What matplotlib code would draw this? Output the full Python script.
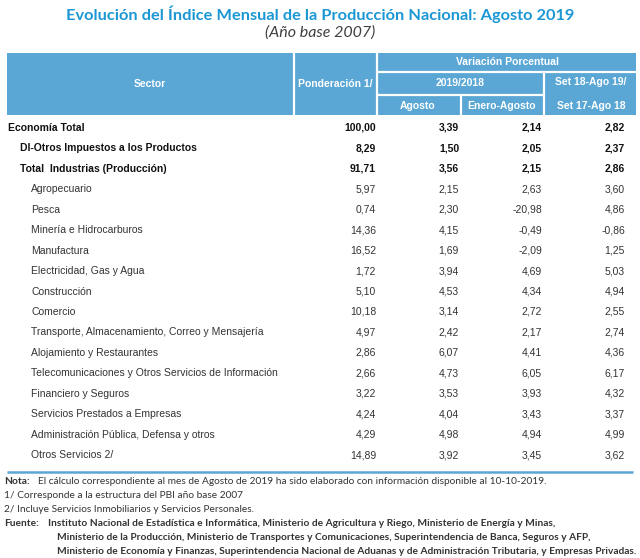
import matplotlib.pyplot as plt
from matplotlib.patches import Rectangle

# datos del cuadro
sectores = [
    'Economía Total',
    'DI-Otros Impuestos a los Productos',
    'Total  Industrias (Producción)',
    'Agropecuario',
    'Pesca',
    'Minería e Hidrocarburos',
    'Manufactura',
    'Electricidad, Gas y Agua',
    'Construcción',
    'Comercio',
    'Transporte, Almacenamiento, Correo y Mensajería',
    'Alojamiento y Restaurantes',
    'Telecomunicaciones y Otros Servicios de Información',
    'Financiero y Seguros',
    'Servicios Prestados a Empresas',
    'Administración Pública, Defensa y otros',
    'Otros Servicios 2/',
]
nivel = [0, 1, 1, 2, 2, 2, 2, 2, 2, 2, 2, 2, 2, 2, 2, 2, 2]
ponderacion = [100.00, 8.29, 91.71, 5.97, 0.74, 14.36, 16.52, 1.72, 5.10,
               10.18, 4.97, 2.86, 2.66, 3.22, 4.24, 4.29, 14.89]
agosto = [3.39, 1.50, 3.56, 2.15, 2.30, 4.15, 1.69, 3.94, 4.53,
          3.14, 2.42, 6.07, 4.73, 3.53, 4.04, 4.98, 3.92]
enero_agosto = [2.14, 2.05, 2.15, 2.63, -20.98, -0.49, -2.09, 4.69, 4.34,
                2.72, 2.17, 4.41, 6.05, 3.93, 3.43, 4.94, 3.45]
anual = [2.82, 2.37, 2.86, 3.60, 4.86, -0.86, 1.25, 5.03, 4.94,
         2.55, 2.74, 4.36, 6.17, 4.32, 3.37, 4.99, 3.62]

titulo = 'Evolución del Índice Mensual de la Producción Nacional: Agosto 2019'
subtitulo = '(Año base 2007)'
nota = ('El cálculo correspondiente al mes de Agosto de 2019 ha sido elaborado '
        'con información disponible al 10-10-2019.')
llamadas = ['1/ Corresponde a la estructura del PBI año base 2007',
            '2/ Incluye Servicios Inmobiliarios y Servicios Personales.']
fuente = ['Instituto Nacional de Estadística e Informática, Ministerio de Agricultura y Riego, Ministerio de Energía y Minas,',
          'Ministerio de la Producción, Ministerio de Transportes y Comunicaciones, Superintendencia de Banca, Seguros y AFP,',
          'Ministerio de Economía y Finanzas, Superintendencia Nacional de Aduanas y de Administración Tributaria, y Empresas Privadas.']

AZUL = '#5AA7D6'
tabla_font = 'Liberation Sans'
nota_font = 'Lato'


def fmt(v):
    return f'{v:.2f}'.replace('.', ',')


fig = plt.figure(figsize=(6.4, 5.58), dpi=100)
ax = fig.add_axes([0, 0, 1, 1])
ax.set_xlim(0, 640)
ax.set_ylim(558, 0)
ax.axis('off')

ax.text(320, 14, titulo, ha='center', va='center', fontsize=11.8,
        fontweight='bold', color='#1B97D4', family=nota_font)
ax.text(320, 33, subtitulo, ha='center', va='center', fontsize=11.5,
        style='italic', color='#404040', family=nota_font)

# encabezado
ax.add_patch(Rectangle((7, 53), 629, 62, facecolor=AZUL, edgecolor='none'))
for x0, y0, x1, y1 in [(293.5, 53, 293.5, 115), (377, 53, 377, 115),
                       (377, 72, 636, 72), (377, 94.5, 544, 94.5),
                       (544, 72, 544, 115), (460.5, 94.5, 460.5, 115)]:
    ax.plot([x0, x1], [y0, y1], color='white', lw=1.6, solid_capstyle='butt')

hdr = dict(ha='center', va='center', color='white', fontweight='bold',
           fontsize=7.5, family=tabla_font)
ax.text(150, 84, 'Sector', **hdr)
ax.text(335, 84, 'Ponderación 1/', **hdr)
ax.text(507, 62, 'Variación Porcentual', **hdr)
ax.text(460, 83, '2019/2018', **hdr)
ax.text(591, 82, 'Set 18-Ago 19/', **hdr)
ax.text(591, 106, 'Set 17-Ago 18', **hdr)
ax.text(418, 106, 'Agosto', **hdr)
ax.text(502, 106, 'Enero-Agosto', **hdr)

# filas
sangria = [8, 20, 31]
for i, nombre in enumerate(sectores):
    y = 128 + i * 20.44
    peso = 'bold' if nivel[i] < 2 else 'normal'
    col = '#111111' if nivel[i] < 2 else '#333333'
    kw = dict(va='center', fontsize=7.5, fontweight=peso, color=col,
              family=tabla_font)
    ax.text(sangria[nivel[i]], y, nombre, ha='left', **kw)
    for xr, serie in zip([376, 459, 542, 625],
                         [ponderacion, agosto, enero_agosto, anual]):
        ax.text(xr, y, fmt(serie[i]), ha='right', **kw)

ax.plot([7, 633], [472, 472], color=AZUL, lw=1.8, solid_capstyle='butt')

# notas
nt = dict(va='center', color='#333333', family=nota_font)
ax.text(4, 482, 'Nota:', fontweight='bold', fontsize=7.4, **nt)
ax.text(38, 482, nota, fontsize=7.3, **nt)
ax.text(4, 496, llamadas[0], fontsize=7.3, **nt)
ax.text(4, 510, llamadas[1], fontsize=7.3, **nt)
ax.text(4, 524, 'Fuente:', fontweight='bold', fontsize=7.3, **nt)
for k, linea in enumerate(fuente):
    ax.text(48 if k == 0 else 57, 524 + k * 14, linea, fontweight='bold',
            fontsize=7.25, **nt)

fig.savefig('out.png', dpi=100, facecolor='white')
